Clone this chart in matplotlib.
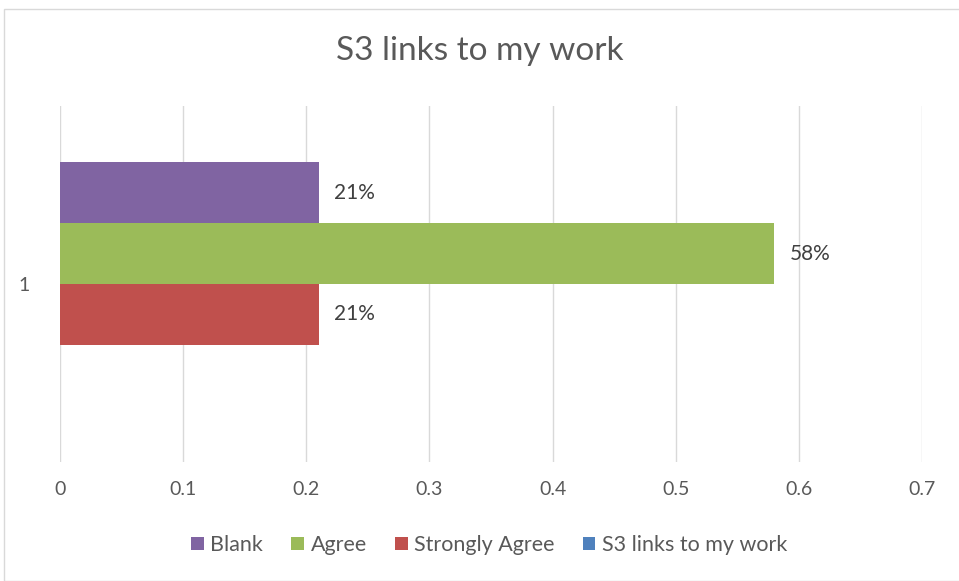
import matplotlib.pyplot as plt
from matplotlib.patches import Rectangle

# series are listed bottom to top, like Excel draws them
series = ["S3 links to my work", "Strongly Agree", "Agree", "Blank"]
values = [0.0, 0.21, 0.58, 0.21]
labels = ["", "21%", "58%", "21%"]
colors = ["#4f81bd", "#c0504d", "#9bbb59", "#8064a2"]
category = "1"
xticks = [0, 0.1, 0.2, 0.3, 0.4, 0.5, 0.6, 0.7]

plt.rcParams['font.family'] = ['Lato', 'DejaVu Sans']
txt = '#595959'

fig = plt.figure(figsize=(9.59, 5.81), dpi=100)
ax = fig.add_axes([60 / 959, 1 - 462 / 581, (922 - 60) / 959, (462 - 106) / 581])

w = 0.685 / 4
start = -2 * w
for i, (s, v, c, lab) in enumerate(zip(series, values, colors, labels)):
    y = start + w * (i + 0.5)
    ax.barh(y, v, height=w, color=c, label=s, zorder=3)
    if lab:
        ax.text(v + 0.0125, y, lab, va='center', ha='left', fontsize=15, color='#404040')

ax.set_xlim(0, 0.7)
ax.set_ylim(-0.5, 0.5)
ax.set_xticks(xticks)
ax.set_xticklabels([f"{t:g}" for t in xticks])
ax.set_yticks([0])
ax.set_yticklabels([category])
ax.tick_params(axis='both', length=0, labelsize=14, colors=txt)
ax.tick_params(axis='x', pad=14)
ax.tick_params(axis='y', pad=22)
ax.grid(axis='x', color='#d9d9d9', linewidth=1, zorder=0)
for sp in ax.spines.values():
    sp.set_visible(False)

fig.text(0.5, 1 - 51 / 581, "S3 links to my work", ha='center', va='center', fontsize=24, color=txt)

h, l = ax.get_legend_handles_labels()
leg = fig.legend(h[::-1], l[::-1], loc='center', bbox_to_anchor=(0.51, 1 - 545 / 581), ncol=4,
                 frameon=False, fontsize=15.5, handlelength=0.6, handleheight=0.6,
                 handletextpad=0.3, columnspacing=1.3, labelcolor=txt)

fig.patches.append(Rectangle((4 / 959, 0), 1, 1 - 9 / 581, transform=fig.transFigure,
                             fill=False, edgecolor='#d9d9d9', linewidth=1))

fig.savefig("out.png", dpi=100)
